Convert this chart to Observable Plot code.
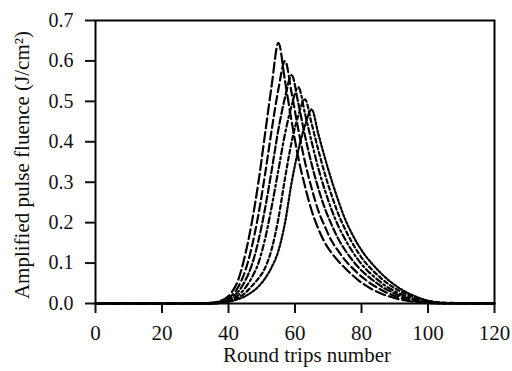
<!DOCTYPE html>
<html>
<head>
<meta charset="utf-8">
<script src="https://cdn.jsdelivr.net/npm/d3@7"></script>
<script src="https://cdn.jsdelivr.net/npm/@observablehq/plot@0.6"></script>
<style>
html,body{margin:0;padding:0;background:#fff;}
svg, svg text { font-family: "Liberation Serif", "Times New Roman", serif !important; }
</style>
</head>
<body>
<div id="chart"></div>
<script>
const rounds = [0,31,35,37,39,41,43,45,47,49,51,53,55,57,59,61,63,65,67,69,71,73,75,77,79,81,83,85,87,89,91,93,95,97,99,101,105,120];
const fluence1 = [0,0,0.002,0.005,0.012,0.028,0.06,0.12,0.2,0.3,0.42,0.54,0.645,0.55,0.45,0.36,0.29,0.23,0.185,0.15,0.125,0.105,0.088,0.072,0.058,0.046,0.036,0.028,0.021,0.016,0.011,0.008,0.005,0.003,0.002,0.001,0,0];
const fluence2 = [0,0,0.001,0.004,0.009,0.02,0.042,0.08,0.14,0.22,0.32,0.43,0.53,0.6,0.52,0.43,0.35,0.285,0.23,0.19,0.155,0.13,0.108,0.09,0.074,0.06,0.048,0.038,0.029,0.022,0.016,0.011,0.007,0.005,0.003,0.002,0,0];
const fluence3 = [0,0,0.001,0.003,0.007,0.015,0.03,0.056,0.095,0.155,0.235,0.33,0.43,0.51,0.565,0.495,0.415,0.345,0.285,0.235,0.195,0.16,0.133,0.11,0.09,0.074,0.06,0.048,0.037,0.029,0.021,0.015,0.011,0.007,0.005,0.003,0.001,0];
const fluence4 = [0,0,0,0.002,0.005,0.011,0.021,0.038,0.064,0.1,0.16,0.24,0.33,0.42,0.49,0.535,0.47,0.4,0.335,0.28,0.232,0.192,0.16,0.132,0.108,0.088,0.072,0.058,0.045,0.035,0.026,0.019,0.014,0.009,0.006,0.004,0.001,0];
const fluence5 = [0,0,0,0.001,0.004,0.008,0.015,0.026,0.043,0.062,0.088,0.135,0.21,0.31,0.4,0.465,0.505,0.445,0.38,0.32,0.268,0.222,0.185,0.153,0.126,0.103,0.085,0.069,0.055,0.043,0.033,0.025,0.018,0.012,0.008,0.005,0.002,0];
const fluence6 = [0,0,0,0.001,0.003,0.006,0.011,0.018,0.028,0.042,0.062,0.09,0.13,0.2,0.3,0.38,0.44,0.48,0.42,0.36,0.305,0.255,0.21,0.175,0.145,0.12,0.1,0.082,0.066,0.052,0.04,0.03,0.022,0.015,0.009,0.005,0.001,0];
const xTicks = [0,20,40,60,80,100,120];
const yTicks = [0,0.1,0.2,0.3,0.4,0.5,0.6,0.7];

const seriesList = [fluence1,fluence2,fluence3,fluence4,fluence5,fluence6];
const dashes = ["10,4","8,4","7,3","6,3,2,3","4,3","2,2"];
const rows = seriesList.map(s => rounds.map((r,i) => ({x:r, y:s[i]})));

const font = "'Liberation Serif', 'Times New Roman', serif";

const chart = Plot.plot({
  width: 512,
  height: 371,
  marginLeft: 95,
  marginRight: 18,
  marginTop: 20,
  marginBottom: 68,
  style: {fontFamily: font, fontSize: "20px", color: "#111", background: "#fff"},
  x: {domain: [0,120]},
  y: {domain: [0,0.7]},
  marks: [
    ...rows.map((d,k) => Plot.line(d, {x:"x", y:"y", stroke:"#000", strokeWidth:2.2, strokeDasharray:dashes[k], curve:"monotone-x"})),
    Plot.frame({stroke:"#000", strokeWidth:2}),
    Plot.axisX({ticks: xTicks, tickSize: 10, tickPadding: 12, strokeWidth: 2, label: null, fontSize: 21, fontFamily: font}),
    Plot.axisY({ticks: yTicks, tickSize: 10, tickPadding: 12, strokeWidth: 2, label: null, tickFormat: d3.format(".1f"), fontSize: 20, fontFamily: font}),
    Plot.text(["Round trips number"], {frameAnchor:"bottom", lineAnchor:"middle", dy: 52, dx: 12, fontSize: 21, fill:"#111", fontFamily: font}),
    Plot.text(["Amplified pulse fluence (J/cm²)"], {frameAnchor:"left", textAnchor:"middle", lineAnchor:"middle", dx: -73, dy: 3, rotate: -90, fontSize: 21, fill:"#111", fontFamily: font})
  ]
});
document.getElementById("chart").appendChild(chart);
</script>
</body>
</html>
